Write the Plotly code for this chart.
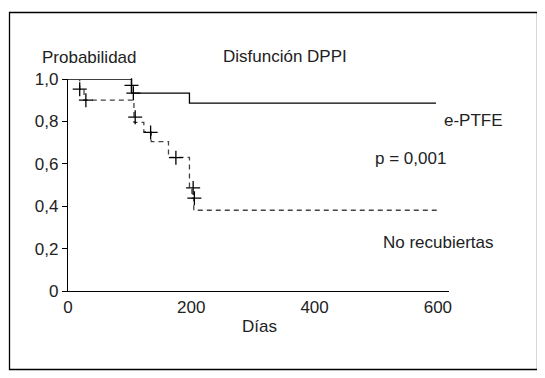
import plotly.graph_objects as go

# ---- data ----
eptfe_days = [0, 103, 197, 597]
eptfe_prob = [1.0, 0.933, 0.886, 0.886]
eptfe_cens_days = [103, 106]
eptfe_cens_prob = [0.97, 0.933]

norec_days = [0, 19, 26, 107, 123, 135, 163, 197, 201, 204, 603]
norec_prob = [1.0, 0.952, 0.90, 0.795, 0.75, 0.705, 0.63, 0.486, 0.438, 0.381, 0.381]
norec_cens_days = [19, 29, 109, 134, 175, 203, 205]
norec_cens_prob = [0.952, 0.90, 0.82, 0.748, 0.629, 0.486, 0.438]

x_ticks = [0, 200, 400, 600]
x_ticklabels = ["0", "200", "400", "600"]
y_ticks = [0, 0.2, 0.4, 0.6, 0.8, 1.0]
y_ticklabels = ["0", "0,2", "0,4", "0,6", "0,8", "1,0"]

# ---- layout geometry (pixels, in window coordinates; page body has 8px margin) ----
OFF = 8
W, H = 545 - OFF, 378 - OFF
L, R, T, B = 68 - OFF, 449 - OFF, 79 - OFF, 291 - OFF
XR = [0, 618]


def px(xp):
    return (xp - OFF - L) / (R - L)


def py(yp):
    return (B - (yp - OFF)) / (B - T)


FONT = "Liberation Sans, Arial, sans-serif"
FS = 17

fig = go.Figure()
fig.add_trace(go.Scatter(x=eptfe_days, y=eptfe_prob, mode="lines", line_shape="hv",
                         line=dict(color="black", width=1.3), cliponaxis=False,
                         showlegend=False, hoverinfo="skip"))
fig.add_trace(go.Scatter(x=norec_days, y=norec_prob, mode="lines", line_shape="hv",
                         line=dict(color="#444444", width=1.3, dash="5px,4px"),
                         cliponaxis=False, showlegend=False, hoverinfo="skip"))
fig.add_trace(go.Scatter(x=eptfe_cens_days + norec_cens_days,
                         y=eptfe_cens_prob + norec_cens_prob, mode="markers",
                         marker=dict(symbol="cross-thin", size=10,
                                     line=dict(color="black", width=1.3)),
                         cliponaxis=False, showlegend=False, hoverinfo="skip"))

fig.update_xaxes(range=XR, showline=True, linecolor="black", linewidth=1.2,
                 showgrid=False, zeroline=False, ticks="", tickvals=x_ticks,
                 ticktext=x_ticklabels, tickfont=dict(family=FONT, size=FS, color="#222"))
fig.update_yaxes(range=[0, 1.0], showline=True, linecolor="black", linewidth=1.2,
                 showgrid=False, zeroline=False, ticks="outside", ticklen=5,
                 tickcolor="black", tickwidth=1.2, tickvals=y_ticks,
                 ticktext=y_ticklabels, tickfont=dict(family=FONT, size=FS, color="#222"))

fig.add_shape(type="rect", xref="paper", yref="paper",
              x0=px(9.5), x1=px(537.5), y0=py(369.5), y1=py(12.5),
              line=dict(color="black", width=1.3), fillcolor="rgba(0,0,0,0)")


def ann(text, xp, yp, xanchor="center"):
    fig.add_annotation(text=text, xref="paper", yref="paper", x=px(xp), y=py(yp),
                       xanchor=xanchor, yanchor="middle", showarrow=False,
                       font=dict(family=FONT, size=FS, color="#222"))


ann("Probabilidad", 40, 58, "left")
ann("Disfunción DPPI", 221, 56, "left")
ann("e-PTFE", 442, 120, "left")
ann("p = 0,001", 373, 158, "left")
ann("No recubiertas", 381, 242, "left")
ann("Días", 259, 326)

fig.update_layout(width=W, height=H, margin=dict(l=L, r=W - R, t=T, b=H - B),
                  paper_bgcolor="white", plot_bgcolor="white",
                  font=dict(family=FONT, size=FS, color="#222"))

fig.write_html("out.html")
